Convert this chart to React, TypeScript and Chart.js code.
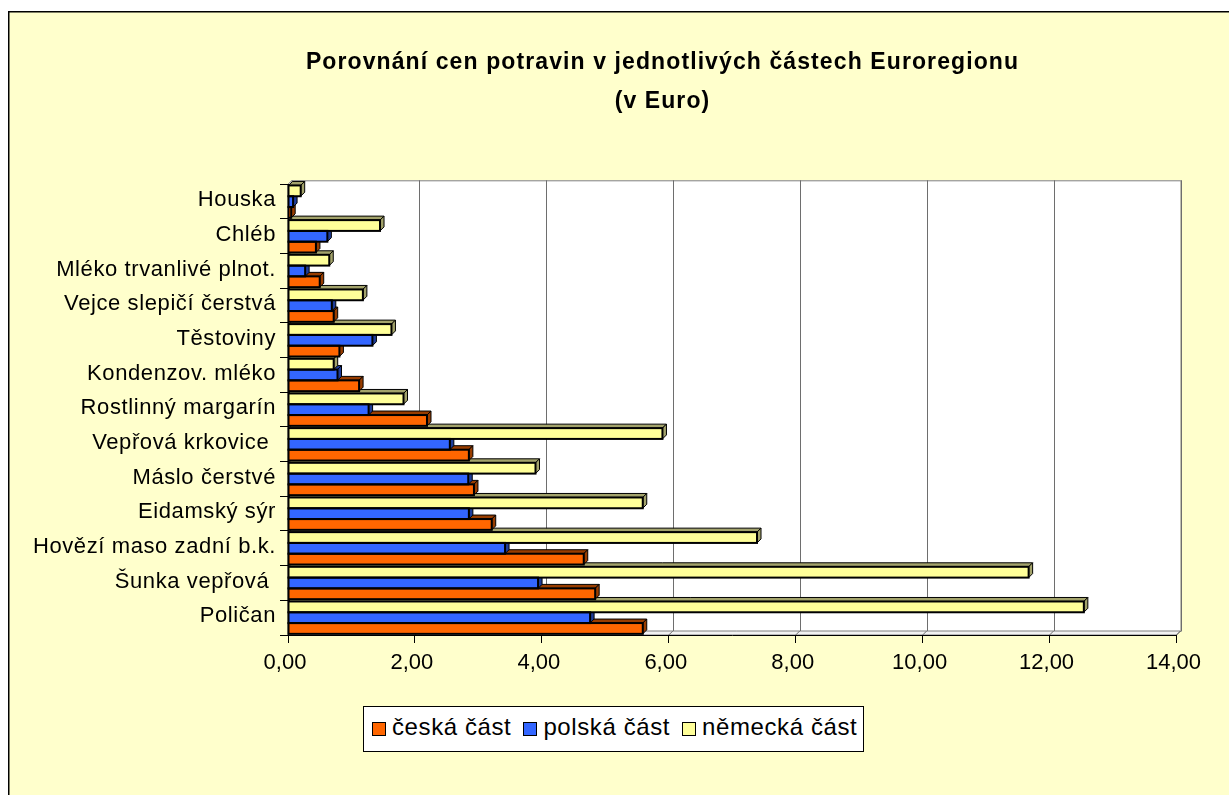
import React, { useEffect, useRef } from 'react';
import { Chart, registerables } from 'chart.js';

Chart.register(...registerables);

// Categories in reading order (top to bottom)
const categories = [
  'Houska',
  'Chléb',
  'Mléko trvanlivé plnot.',
  'Vejce slepičí čerstvá',
  'Těstoviny',
  'Kondenzov. mléko',
  'Rostlinný margarín',
  'Vepřová krkovice ',
  'Máslo čerstvé',
  'Eidamský sýr',
  'Hovězí maso zadní b.k.',
  'Šunka vepřová ',
  'Poličan',
];

const nemeckaCast = [0.2, 1.45, 0.65, 1.18, 1.63, 0.72, 1.82, 5.9, 3.9, 5.59, 7.39, 11.67, 12.54];
const polskaCast = [0.08, 0.62, 0.27, 0.69, 1.33, 0.78, 1.27, 2.55, 2.84, 2.85, 3.42, 3.94, 4.76];
const ceskaCast = [0.05, 0.44, 0.5, 0.72, 0.81, 1.12, 2.19, 2.85, 2.93, 3.21, 4.66, 4.84, 5.59];

const xTickLabels = ['0,00', '2,00', '4,00', '6,00', '8,00', '10,00', '12,00', '14,00'];

const seriesNames = ['česká část', 'polská část', 'německá část'];
const seriesColors = ['#FF6600', '#3366FF', '#FFFF99'];
const seriesSideColors = ['#993D00', '#1F3D99', '#A3A36B'];

const titleLines = ['Porovnání cen potravin v jednotlivých částech Euroregionu', '(v Euro)'];

const FONT = '"Liberation Sans", Arial, sans-serif';
const DX = 4;
const DY = 4;

const threeD = {
  id: 'threeD',
  beforeDraw(chart: any) {
    const ctx = chart.ctx;
    const { left, right, top, bottom } = chart.chartArea;
    ctx.save();
    ctx.fillStyle = '#ffffff';
    ctx.fillRect(0, 0, chart.width, chart.height);
    ctx.fillStyle = '#FFFFCC';
    ctx.fillRect(8, 11, chart.width - 8, chart.height - 11);
    ctx.strokeStyle = '#000';
    ctx.lineWidth = 1.5;
    ctx.beginPath();
    ctx.moveTo(8.75, chart.height);
    ctx.lineTo(8.75, 11.75);
    ctx.lineTo(chart.width, 11.75);
    ctx.stroke();

    // back wall
    ctx.fillStyle = '#ffffff';
    ctx.fillRect(left + DX, top - DY, right - left, bottom - top);
    ctx.strokeStyle = '#808080';
    ctx.lineWidth = 1;
    ctx.strokeRect(left + DX + 0.5, top - DY + 0.5, right - left, bottom - top);

    // left wall
    ctx.beginPath();
    ctx.moveTo(left, top);
    ctx.lineTo(left + DX, top - DY);
    ctx.lineTo(left + DX, bottom - DY);
    ctx.lineTo(left, bottom);
    ctx.closePath();
    ctx.fillStyle = '#ffffff';
    ctx.fill();
    ctx.stroke();

    // floor
    ctx.beginPath();
    ctx.moveTo(left, bottom);
    ctx.lineTo(right, bottom);
    ctx.lineTo(right + DX, bottom - DY);
    ctx.lineTo(left + DX, bottom - DY);
    ctx.closePath();
    ctx.fillStyle = '#f2f2f2';
    ctx.fill();
    ctx.strokeStyle = '#808080';
    ctx.stroke();

    // gridlines on back wall
    const xs = chart.scales.x;
    ctx.strokeStyle = '#6e6e6e';
    ctx.lineWidth = 1;
    xs.ticks.forEach((t: any) => {
      if (t.value === 0) return;
      const px = Math.round(xs.getPixelForValue(t.value) + DX) + 0.5;
      ctx.beginPath();
      ctx.moveTo(px, top - DY);
      ctx.lineTo(px, bottom - DY);
      ctx.stroke();
      const fx = xs.getPixelForValue(t.value);
      ctx.beginPath();
      ctx.moveTo(fx, bottom);
      ctx.lineTo(fx + DX, bottom - DY);
      ctx.stroke();
    });
    ctx.restore();
    ctx.letterSpacing = '0.6px';
  },
  beforeDatasetsDraw(chart: any) {
    const ctx = chart.ctx;
    ctx.letterSpacing = '0px';
    const bars: any[] = [];
    chart.data.datasets.forEach((ds: any, di: number) => {
      const meta = chart.getDatasetMeta(di);
      meta.data.forEach((el: any) => {
        const p = el.getProps(['x', 'y', 'base', 'height'], true);
        bars.push({ p, side: ds.sideColor });
      });
    });
    bars.sort((a, b) => b.p.y - a.p.y);
    ctx.save();
    ctx.strokeStyle = '#000';
    ctx.lineWidth = 1;
    ctx.lineJoin = 'round';
    bars.forEach(({ p, side }) => {
      const l = Math.min(p.base, p.x);
      const r = Math.max(p.base, p.x);
      const t = p.y - p.height / 2;
      const b = p.y + p.height / 2;
      ctx.fillStyle = side;
      ctx.beginPath();
      ctx.moveTo(l, t);
      ctx.lineTo(r, t);
      ctx.lineTo(r + DX, t - DY);
      ctx.lineTo(l + DX, t - DY);
      ctx.closePath();
      ctx.fill();
      ctx.stroke();
      ctx.beginPath();
      ctx.moveTo(r, t);
      ctx.lineTo(r + DX, t - DY);
      ctx.lineTo(r + DX, b - DY);
      ctx.lineTo(r, b);
      ctx.closePath();
      ctx.fill();
      ctx.stroke();
    });
    ctx.restore();
  },
  afterDatasetsDraw(chart: any) {
    const ctx = chart.ctx;
    ctx.save();
    ctx.strokeStyle = '#000';
    ctx.lineWidth = 2;
    chart.data.datasets.forEach((_ds: any, di: number) => {
      const meta = chart.getDatasetMeta(di);
      meta.data.forEach((el: any) => {
        const p = el.getProps(['x', 'y', 'base', 'height'], true);
        const l = Math.min(p.base, p.x);
        const r = Math.max(p.base, p.x);
        ctx.strokeRect(l, p.y - p.height / 2, r - l, p.height);
      });
    });
    ctx.restore();
  },
};

export default function App() {
  const ref = useRef<HTMLCanvasElement | null>(null);

  useEffect(() => {
    if (!ref.current) return;
    const mk = (label: string, data: number[], color: string, side: string) => ({
      label,
      data,
      backgroundColor: color,
      sideColor: side,
      borderWidth: 0,
      categoryPercentage: 0.934,
      barPercentage: 1,
    });
    const chart = new Chart(ref.current, {
      type: 'bar',
      data: {
        labels: categories,
        datasets: [
          mk(seriesNames[2], nemeckaCast, seriesColors[2], seriesSideColors[2]),
          mk(seriesNames[1], polskaCast, seriesColors[1], seriesSideColors[1]),
          mk(seriesNames[0], ceskaCast, seriesColors[0], seriesSideColors[0]),
        ] as any,
      },
      options: {
        indexAxis: 'y',
        responsive: false,
        animation: false,
        devicePixelRatio: 1,
        layout: { padding: { left: 0, right: 52.5, top: 184.3, bottom: 0 } },
        plugins: {
          legend: { display: false },
          title: { display: false },
          tooltip: { enabled: false },
        },
        scales: {
          x: {
            type: 'linear',
            position: 'bottom',
            min: 0,
            max: 14,
            afterFit: (s: any) => {
              s.height = 160;
            },
            ticks: {
              stepSize: 2,
              autoSkip: false,
              maxRotation: 0,
              callback: (_v: any, i: number) => xTickLabels[i],
              font: { family: FONT, size: 22 },
              color: '#000',
              padding: 7,
              labelOffset: -3,
              z: 1,
            },
            grid: { drawOnChartArea: false, drawTicks: true, tickLength: 8, color: '#000' },
            border: { display: true, color: '#000', width: 1 },
          },
          y: {
            type: 'category',
            afterFit: (s: any) => {
              s.width = 288;
            },
            ticks: {
              autoSkip: false,
              font: { family: FONT, size: 22 },
              color: '#000',
              padding: 4,
              labelOffset: -1.5,
            },
            grid: { offset: true, drawOnChartArea: false, drawTicks: true, tickLength: 8, color: '#000' },
            border: { display: true, color: '#000', width: 1 },
          },
        },
      } as any,
      plugins: [threeD],
    });
    return () => chart.destroy();
  }, []);

  return (
    <>
      <canvas
        ref={ref}
        width={1229}
        height={795}
        style={{ position: 'absolute', left: 0, top: 0, width: 1229, height: 795 }}
      />
      <div
        style={{
          position: 'absolute',
          left: 662.5,
          top: 42,
          transform: 'translateX(-50%)',
          fontFamily: FONT,
          fontWeight: 'bold',
          fontSize: 23,
          lineHeight: '39.3px',
          letterSpacing: '1.1px',
          textAlign: 'center',
          whiteSpace: 'nowrap',
          color: '#000',
        }}
      >
        {titleLines.map((t) => (
          <div key={t}>{t}</div>
        ))}
      </div>
      <div
        style={{
          position: 'absolute',
          left: 363,
          top: 706,
          width: 501,
          height: 46,
          boxSizing: 'border-box',
          border: '1px solid #000',
          background: '#fff',
          display: 'flex',
          alignItems: 'center',
          paddingLeft: 8,
          fontFamily: FONT,
          fontSize: 24,
          letterSpacing: '0.6px',
          whiteSpace: 'nowrap',
          color: '#000',
        }}
      >
        {seriesNames.map((n, i) => (
          <React.Fragment key={n}>
            <span
              style={{
                display: 'inline-block',
                width: 14,
                height: 14,
                boxSizing: 'border-box',
                border: '1px solid #000',
                background: seriesColors[i],
                marginRight: 6,
                flex: 'none',
              }}
            />
            <span style={{ position: 'relative', top: -2, marginRight: 12 }}>{n}</span>
          </React.Fragment>
        ))}
      </div>
    </>
  );
}
